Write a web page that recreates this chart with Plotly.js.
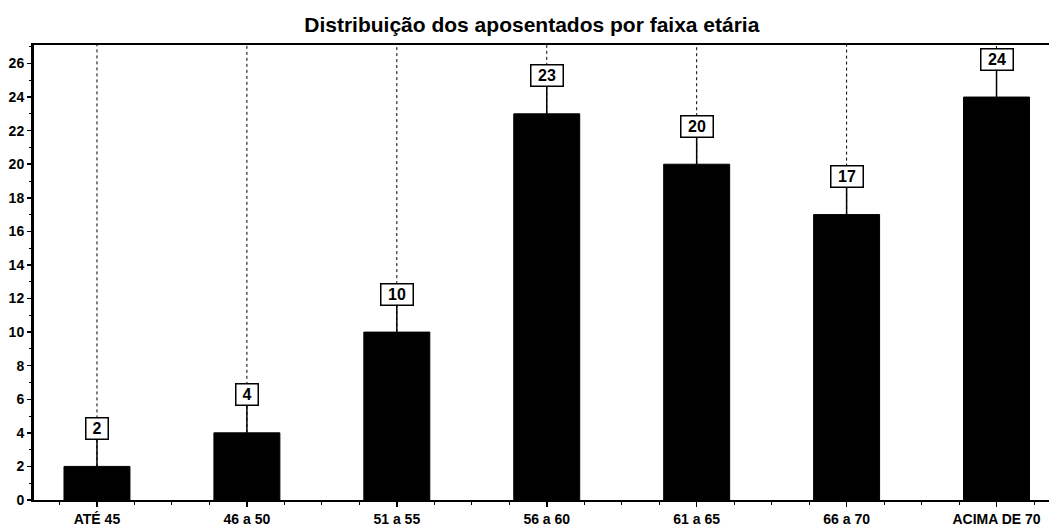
<!DOCTYPE html>
<html>
<head>
<meta charset="utf-8">
<script src="https://cdn.plot.ly/plotly-3.0.1.min.js"></script>
<style>html,body{margin:0;padding:0;background:#fff;}#chart{width:1049px;height:526px;}</style>
</head>
<body>
<div id="chart"></div>
<script>
const categories = ["ATÉ 45", "46 a 50", "51 a 55", "56 a 60", "61 a 65", "66 a 70", "ACIMA DE 70"];
const values = [2, 4, 10, 23, 20, 17, 24];
const yTop = 27.1;

const idx = categories.map((c, i) => i);
const FONT = "Liberation Sans, Arial, sans-serif";

const trace = {
  type: "bar",
  x: idx,
  y: values,
  width: 0.44,
  marker: {color: "#000", line: {color: "#000", width: 1}},
  hoverinfo: "skip"
};

const shapes = idx.map((i) => ({
  type: "line", xref: "x", yref: "y",
  x0: i, x1: i, y0: values[i], y1: yTop,
  line: {color: "#000", width: 1, dash: "3px,3px"},
  layer: "below"
}));

const annotations = idx.map((i) => ({
  x: i, y: values[i], xref: "x", yref: "y",
  text: String(values[i]),
  showarrow: true, arrowhead: 0, arrowwidth: 1.5, arrowcolor: "#000",
  ax: 0, ay: -38,
  bgcolor: "#fff", bordercolor: "#000", borderwidth: 1.5, borderpad: 1,
  width: String(values[i]).length * 10 + 9, height: 18,
  font: {family: FONT, size: 16, color: "#000", weight: "bold"}
}));

const layout = {
  width: 1049, height: 526,
  margin: {l: 34, r: 0, t: 45, b: 26},
  paper_bgcolor: "#fff", plot_bgcolor: "#fff",
  showlegend: false,
  title: {
    text: "Distribuição dos aposentados por faixa etária",
    font: {family: FONT, size: 21, color: "#000", weight: "bold"},
    xref: "container", x: 0.507, xanchor: "center",
    yref: "container", y: 0.954, yanchor: "middle"
  },
  xaxis: {
    range: [-0.42, 6.35],
    tickvals: idx, ticktext: categories,
    ticks: "outside", ticklen: 5, tickwidth: 1.5, tickcolor: "#000",
    minor: {dtick: 0.25, tick0: 0, ticks: "outside", ticklen: 3, tickwidth: 1, tickcolor: "#000"},
    showline: true, linecolor: "#000", linewidth: 2, mirror: true,
    showgrid: false, zeroline: false,
    tickfont: {family: FONT, size: 14, color: "#000", weight: "bold"},
    fixedrange: true
  },
  yaxis: {
    range: [0, yTop],
    dtick: 2, tick0: 0,
    ticks: "outside", ticklen: 4, tickwidth: 1.5, tickcolor: "#000",
    minor: {dtick: 1, ticks: "outside", ticklen: 2, tickwidth: 1, tickcolor: "#000"},
    showline: true, linecolor: "#000", linewidth: 3,
    showgrid: false, zeroline: false,
    tickfont: {family: FONT, size: 14, color: "#000", weight: "bold"},
    fixedrange: true
  },
  shapes: shapes,
  annotations: annotations
};

Plotly.newPlot("chart", [trace], layout, {displayModeBar: false, staticPlot: true});
</script>
</body>
</html>
